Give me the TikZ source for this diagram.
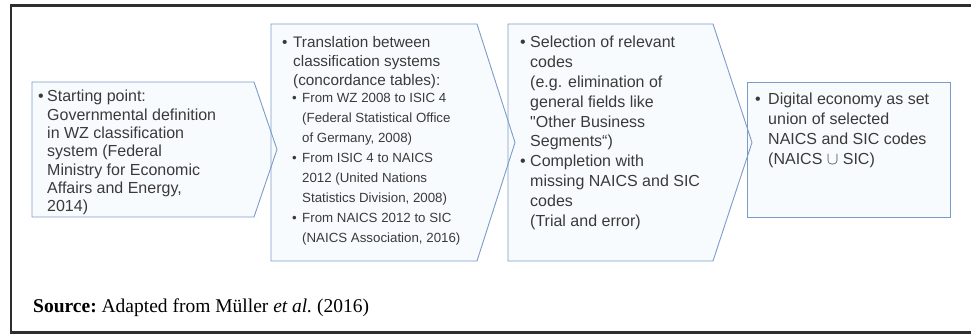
\documentclass[tikz,border=0pt]{standalone}
\usepackage{fontspec}
\setmainfont{Liberation Serif}
\newfontfamily\arialf{Liberation Sans}
\definecolor{framec}{HTML}{2E2E2E}
\definecolor{boxline}{HTML}{7C9CC8}
\definecolor{boxfill}{HTML}{F8FBFD}
\definecolor{txt}{HTML}{3A3A3A}
\tikzset{
  chevfill/.style={fill=boxfill},
  chevline/.style={draw=boxline, line width=0.9pt, line join=miter},
  bodytext/.style={inner sep=0pt, anchor=base west, align=left, text=txt},
  bulletmark/.style={inner sep=0pt, anchor=base west, text=txt},
  fA/.style={font=\arialf\fontsize{16}{18.3}\selectfont},
  fB/.style={font=\arialf\fontsize{15.3}{18.7}\selectfont},
  fSub/.style={font=\arialf\fontsize{13.3}{20}\selectfont},
  fC/.style={font=\arialf\fontsize{16}{19.8}\selectfont},
  fD/.style={font=\arialf\fontsize{16}{20}\selectfont},
}
\begin{document}
\begin{tikzpicture}[x=1pt,y=1pt]
\useasboundingbox (0,0) rectangle (971,334);
\fill[white] (0,0) rectangle (971,334);
\draw[framec, line width=2.5pt] (985,328.5) -- (11,328.5) -- (11,1.7) -- (985,1.7);

% box shapes
\coordinate (b1a) at (32,252);  \coordinate (b1b) at (254,252); \coordinate (b1t) at (277,184.5);
\coordinate (b1c) at (254,117); \coordinate (b1d) at (32,117);
\coordinate (b2a) at (271,310); \coordinate (b2b) at (477,310); \coordinate (b2t) at (515,191.5);
\coordinate (b2c) at (477,73);  \coordinate (b2d) at (271,73);
\coordinate (b3a) at (508,310); \coordinate (b3b) at (713,310); \coordinate (b3t) at (752,191.5);
\coordinate (b3c) at (713,73);  \coordinate (b3d) at (508,73);
\coordinate (b4a) at (747,252); \coordinate (b4b) at (950,252);
\coordinate (b4c) at (950,117); \coordinate (b4d) at (747,117);

\path[chevfill] (b1a) -- (b1b) -- (b1t) -- (b1c) -- (b1d) -- cycle;
\path[chevfill] (b2a) -- (b2b) -- (b2t) -- (b2c) -- (b2d) -- cycle;
\path[chevfill] (b3a) -- (b3b) -- (b3t) -- (b3c) -- (b3d) -- cycle;
\path[chevfill] (b4a) -- (b4b) -- (b4c) -- (b4d) -- cycle;
\draw[chevline] (b1a) -- (b1b) -- (b1t) -- (b1c) -- (b1d) -- cycle;
\draw[chevline] (b2a) -- (b2b) -- (b2t) -- (b2c) -- (b2d) -- cycle;
\draw[chevline] (b3a) -- (b3b) -- (b3t) -- (b3c) -- (b3d) -- cycle;
\draw[chevline] (b4a) -- (b4b) -- (b4c) -- (b4d) -- cycle;

% box 1 (base anchor = last line)
\node[bulletmark, fA] (m1) at (38,232) {•};
\node[bodytext, fA] (t1) at (47,122.2) {Starting point:\\Governmental definition\\in WZ classification\\system (Federal\\Ministry for Economic\\Affairs and Energy,\\2014)};

% box 2
\node[bulletmark, fB] (m2) at (282,286) {•};
\node[bodytext, fB] (t2) at (293,248.6) {Translation between\\classification systems\\(concordance tables):};
\node[bulletmark, fSub] (m2a) at (292,231) {•};
\node[bodytext, fSub] (t2a) at (302,191) {From WZ 2008 to ISIC 4\\(Federal Statistical Office\\of Germany, 2008)};
\node[bulletmark, fSub] (m2b) at (292,171) {•};
\node[bodytext, fSub] (t2b) at (302,131) {From ISIC 4 to NAICS\\2012 (United Nations\\Statistics Division, 2008)};
\node[bulletmark, fSub] (m2c) at (292,111) {•};
\node[bodytext, fSub] (t2c) at (302,91) {From NAICS 2012 to SIC\\(NAICS Association, 2016)};

% box 3
\node[bulletmark, fC] (m3a) at (520,286) {•};
\node[bodytext, fC] (t3a) at (530,187) {Selection of relevant\\codes\\(e.g. elimination of\\general fields like\\"Other Business\\Segments“)};
\node[bulletmark, fC] (m3b) at (520,167.2) {•};
\node[bodytext, fC] (t3b) at (530,107.8) {Completion with\\missing NAICS and SIC\\codes\\(Trial and error)};

% box 4
\node[bulletmark, fD] (m4) at (755,229) {•};
\node[bodytext, fD] (t4) at (768,169) {Digital economy as set\\union of selected\\NAICS and SIC codes\\(NAICS $\cup$ SIC)};

% source
\node[inner sep=0pt, anchor=base west, font=\fontsize{19.5}{23}\selectfont\frenchspacing] (src) at (33,21) {\textbf{Source:} Adapted from Müller \textit{et al.} (2016)};
\end{tikzpicture}
\end{document}
